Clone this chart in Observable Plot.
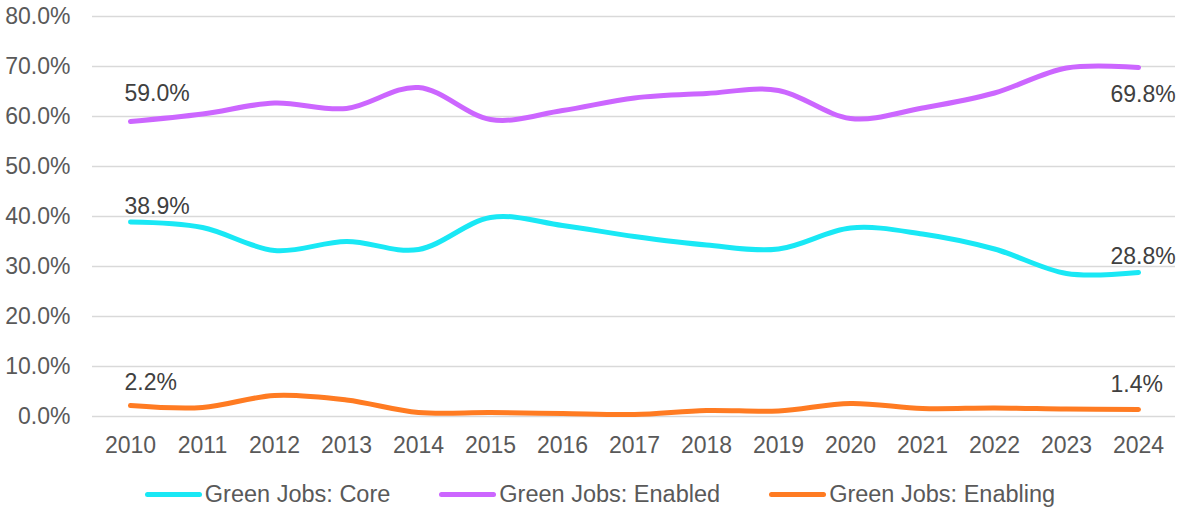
<!DOCTYPE html>
<html><head><meta charset="utf-8">
<script src="https://cdn.jsdelivr.net/npm/d3@7"></script>
<script src="https://cdn.jsdelivr.net/npm/@observablehq/plot@0.6"></script>
<style>
html,body{margin:0;padding:0;background:#fff;}
body{font-family:"Liberation Sans",Arial,sans-serif;width:1184px;height:510px;overflow:hidden;}
#legend{display:flex;justify-content:center;align-items:center;height:49px;margin-top:9px;padding-left:16px;font-size:23.5px;color:#595959;}
.item{display:flex;align-items:center;margin:0 24.5px;}
.sw{width:57px;height:5px;border-radius:3px;margin-right:3px;}
</style></head><body>
<div id="chart"></div>
<div id="legend"></div>
<script>
const years = [2010,2011,2012,2013,2014,2015,2016,2017,2018,2019,2020,2021,2022,2023,2024];
const core =     [38.9,37.8,33.2,35.0,33.4,39.8,38.2,36.0,34.3,33.5,37.7,36.5,33.5,28.6,28.8];
const enabled =  [59.0,60.5,62.7,61.6,65.8,59.4,61.2,63.7,64.6,65.2,59.6,61.7,64.7,69.7,69.8];
const enabling = [2.2,1.8,4.2,3.3,0.8,0.8,0.6,0.4,1.2,1.1,2.6,1.6,1.7,1.5,1.4];
const seriesNames = ["Green Jobs: Core","Green Jobs: Enabled","Green Jobs: Enabling"];
const seriesColors = ["#19E8F5","#CC66FF","#FF7B22"];
const yTicks = [0,10,20,30,40,50,60,70,80];

const seriesValues = [core, enabled, enabling];
const rows = [];
seriesValues.forEach((vals, si) => vals.forEach((v, i) => rows.push({year: years[i], value: v, series: seriesNames[si]})));
const fmt = v => d3.format(".1f")(v) + "%";

// end labels: per-series vertical offsets
const firstDy = {"Green Jobs: Core": -15, "Green Jobs: Enabled": -28, "Green Jobs: Enabling": -23};
const lastDy  = {"Green Jobs: Core": -16, "Green Jobs: Enabled": 27, "Green Jobs: Enabling": -25};
const firsts = rows.filter(d => d.year === years[0]);
const lasts = rows.filter(d => d.year === years[years.length - 1]);

const textMarks = [];
for (const d of firsts) textMarks.push(Plot.text([d], {x: "year", y: "value", text: d => fmt(d.value), textAnchor: "start", dx: -6, dy: firstDy[d.series], fill: "#404040", fontSize: 23}));
for (const d of lasts) textMarks.push(Plot.text([d], {x: "year", y: "value", text: d => fmt(d.value), textAnchor: "start", dx: -28, dy: lastDy[d.series], fill: "#404040", fontSize: 23}));

const chart = Plot.plot({
  width: 1184,
  height: 461,
  marginLeft: 92,
  marginRight: 9,
  marginTop: 16,
  marginBottom: 45,
  style: {fontFamily: "Liberation Sans, Arial, sans-serif", fontSize: "23px", color: "#595959", background: "#fff", overflow: "visible"},
  x: {type: "point", domain: years, padding: 0.5, label: null},
  y: {domain: [0, 80], label: null},
  color: {domain: seriesNames, range: seriesColors},
  marks: [
    Plot.ruleY(yTicks, {stroke: "#D9D9D9", strokeWidth: 1.5}),
    Plot.axisY({ticks: yTicks, tickSize: 0, tickPadding: 22, tickFormat: fmt, fill: "#595959", fontSize: 23, label: null}),
    Plot.axisX({tickSize: 0, tickPadding: 20, tickFormat: d => String(d), fill: "#595959", fontSize: 23, label: null}),
    Plot.line(rows, {x: "year", y: "value", z: "series", stroke: "series", strokeWidth: 5, curve: "cardinal", strokeLinecap: "round", strokeLinejoin: "round"}),
    ...textMarks
  ]
});
document.getElementById("chart").appendChild(chart);

const legend = document.getElementById("legend");
seriesNames.forEach((n, i) => {
  const it = document.createElement("div"); it.className = "item";
  const sw = document.createElement("div"); sw.className = "sw"; sw.style.background = seriesColors[i];
  const tx = document.createElement("span"); tx.textContent = n;
  it.appendChild(sw); it.appendChild(tx); legend.appendChild(it);
});
</script>
</body></html>
